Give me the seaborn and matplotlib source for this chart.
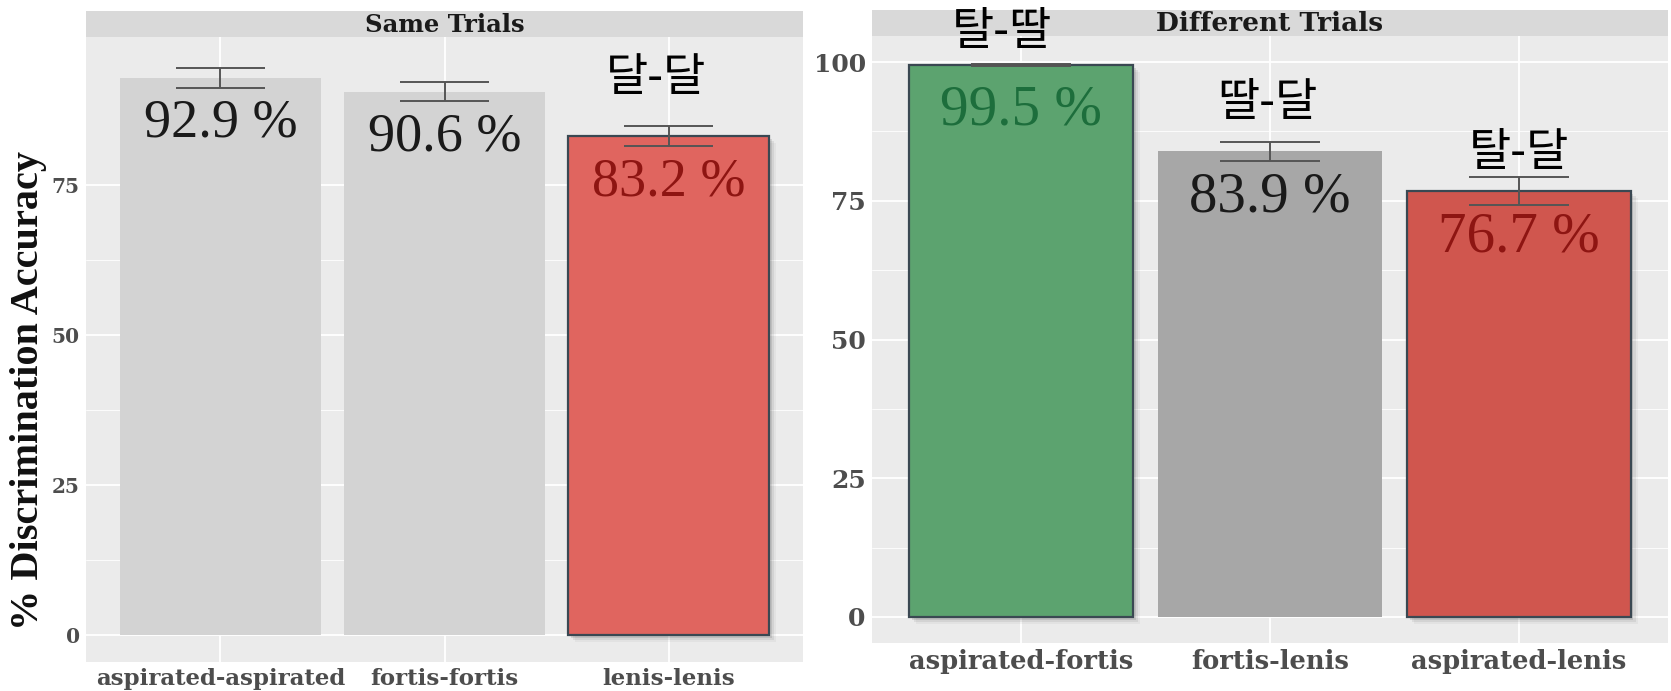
import numpy as np
import pandas as pd
import matplotlib
matplotlib.use("Agg")
import matplotlib.pyplot as plt
import matplotlib.patheffects as pe
import seaborn as sns

# ---- data -------------------------------------------------------------
same_pairs = ["aspirated-aspirated", "fortis-fortis", "lenis-lenis"]
same_acc = [92.9, 90.6, 83.2]
same_se = [1.65, 1.65, 1.7]
same_korean = ["", "", "달-달"]

diff_pairs = ["aspirated-fortis", "fortis-lenis", "aspirated-lenis"]
diff_acc = [99.5, 83.9, 76.7]
diff_se = [0.2, 1.7, 2.5]
diff_korean = ["탈-딸", "딸-달", "탈-달"]

# ---- styling ----------------------------------------------------------
sns.set_theme(style="darkgrid")
plt.rcParams["font.family"] = ["Liberation Serif", "DejaVu Serif"]

same_colors = ["#d3d3d3", "#d3d3d3", "#e0655f"]
same_outline = [False, False, True]
same_text = ["#1a1a1a", "#1a1a1a", "#8e1512"]
same_kor_off = [0, 0, 42]          # points above bar top
same_kor_dx = [0, 0, -9]

diff_colors = ["#5ca36f", "#a7a7a7", "#d0564e"]
diff_outline = [True, False, True]
diff_text = ["#1d6e3c", "#1a1a1a", "#8e1512"]
diff_kor_off = [24, 35, 28]
diff_kor_dx = [-14, -2, 0]

PANEL_BG = "#ebebeb"
STRIP_BG = "#d9d9d9"
TICK_COL = "#4d4d4d"
EDGE_COL = "#3a4852"
AXIS_FONT = ["DejaVu Serif"]

W, H = 1671, 691
fig = plt.figure(figsize=(W / 100, H / 100), dpi=100)
fig.patch.set_facecolor("white")


def frac(x0, y0, x1, y1):
    """Pixel box (top-left origin) -> figure fraction rect."""
    return [x0 / W, (H - y1) / H, (x1 - x0) / W, (y1 - y0) / H]


def panel(ax, strip, title, pairs, acc, se, colors, outline, tcol,
          kor, kor_off, kor_dx, ylim, yticks, sizes):
    pct_size, ytick_size, xtick_size, strip_size = sizes
    df = pd.DataFrame({"pair": pairs, "acc": acc})
    sns.barplot(data=df, x="pair", y="acc", hue="pair", order=pairs,
                hue_order=pairs, palette=colors, legend=False, width=0.9,
                errorbar=None, saturation=1, ax=ax, zorder=2)

    shadow = [pe.SimplePatchShadow(offset=(o, -o), shadow_rgbFace="#555555",
                                   alpha=a)
              for o, a in [(5, 0.06), (3.5, 0.1), (2, 0.16)]] + [pe.Normal()]
    for patch, has_edge in zip(ax.patches, outline):
        patch.set_linewidth(0)
        if has_edge:
            patch.set_edgecolor(EDGE_COL)
            patch.set_linewidth(1.6)
            patch.set_path_effects(shadow)

    xs = np.arange(len(pairs))
    lo = np.array(acc) - np.array(se)
    hi = np.array(acc) + np.array(se)
    ax.vlines(xs, lo, hi, color="#555555", lw=1.4, zorder=3)
    ax.hlines(lo, xs - 0.2, xs + 0.2, color="#555555", lw=1.4, zorder=3)
    ax.hlines(hi, xs - 0.2, xs + 0.2, color="#555555", lw=1.4, zorder=3)

    for x, v, c in zip(xs, acc, tcol):
        ax.annotate(f"{v} %", (x, v), xytext=(0, -33),
                    textcoords="offset points", ha="center", va="center",
                    fontsize=pct_size, color=c, zorder=4)
    for x, v, k, off, dx in zip(xs, acc, kor, kor_off, kor_dx):
        if k:
            ax.annotate(k, (x, v), xytext=(dx, off),
                        textcoords="offset points", ha="center", va="center",
                        fontsize=33, color="black",
                        family=["Noto Sans CJK KR", "DejaVu Sans"],
                        annotation_clip=False, zorder=6)

    ax.set_xlim(-0.6, len(pairs) - 0.4)
    ax.set_ylim(*ylim)
    ax.set_yticks(yticks)
    ax.set_yticks(np.array(yticks[:-1]) + 12.5, minor=True)
    ax.set_facecolor(PANEL_BG)
    ax.grid(True, which="major", color="white", lw=1.3)
    ax.grid(True, which="minor", axis="y", color="white", lw=0.6)
    ax.set_axisbelow(True)
    for sp in ax.spines.values():
        sp.set_visible(False)
    ax.set_xlabel("")
    ax.set_ylabel("")
    ax.tick_params(axis="both", which="major", length=3, width=0.8,
                   color=TICK_COL, labelcolor=TICK_COL)
    ax.tick_params(axis="y", which="minor", length=0)
    ax.tick_params(axis="y", pad=1.5)
    ax.tick_params(axis="x", pad=1.5)
    for lab in ax.get_yticklabels():
        lab.set_fontweight("bold")
        lab.set_fontsize(ytick_size)
        lab.set_family(AXIS_FONT)
    for lab in ax.get_xticklabels():
        lab.set_fontweight("bold")
        lab.set_fontsize(xtick_size)
        lab.set_family(AXIS_FONT)

    strip.set_facecolor(STRIP_BG)
    strip.set_xticks([])
    strip.set_yticks([])
    for sp in strip.spines.values():
        sp.set_visible(False)
    strip.text(0.5, 0.47, title, transform=strip.transAxes, ha="center",
               va="center", fontsize=strip_size, fontweight="bold",
               color="#1a1a1a", family=AXIS_FONT)


strip_l = fig.add_axes(frac(86, 11, 803, 37), zorder=0)
ax_l = fig.add_axes(frac(86, 37, 803, 662), zorder=1)
strip_r = fig.add_axes(frac(872, 10, 1668, 36), zorder=0)
ax_r = fig.add_axes(frac(872, 36, 1668, 643), zorder=1)

panel(ax_l, strip_l, "Same Trials", same_pairs, same_acc, same_se,
      same_colors, same_outline, same_text, same_korean, same_kor_off,
      same_kor_dx, (-4.5, 99.7), [0, 25, 50, 75], (39, 14.5, 16.5, 17.5))
panel(ax_r, strip_r, "Different Trials", diff_pairs, diff_acc, diff_se,
      diff_colors, diff_outline, diff_text, diff_korean, diff_kor_off,
      diff_kor_dx, (-4.7, 104.7), [0, 25, 50, 75, 100], (41, 18, 18.5, 19))

fig.text(29 / W, (H - 390) / H, "% Discrimination Accuracy", rotation=90,
         ha="center", va="center", fontsize=29, fontweight="bold",
         color="#111111")

fig.savefig("out.png", dpi=100, facecolor="white")
